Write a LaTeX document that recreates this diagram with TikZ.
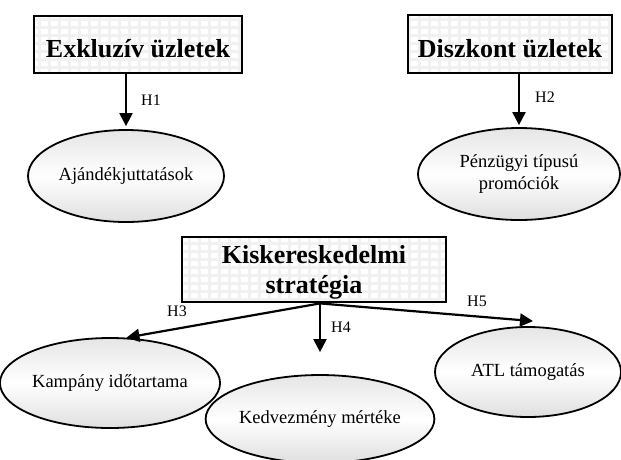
\documentclass[tikz,border=0pt]{standalone}
\usepackage{fontspec}
\setmainfont{Liberation Serif}
\usetikzlibrary{shapes.geometric,arrows.meta,patterns,calc}
\pgfdeclarepatternformonly{hblocks}{\pgfpoint{-1pt}{-1pt}}{\pgfpoint{11pt}{9pt}}{\pgfpoint{10pt}{8pt}}{\pgfpathrectangle{\pgfpoint{1pt}{1pt}}{\pgfpoint{7pt}{5pt}}\pgfusepath{fill}}
\begin{document}
\begin{tikzpicture}[x=1pt,y=-1pt,
  hbox/.style={draw=black,line width=2.8pt,preaction={fill=gray!11},pattern=hblocks,pattern color=white,inner sep=0pt,font=\fontsize{26}{30}\selectfont\bfseries,text depth=0pt,align=center},
  oval/.style={ellipse,draw=black,line width=1.8pt,inner sep=0pt,top color=gray!20,bottom color=gray!25,middle color=white,font=\fontsize{18.5}{22}\selectfont,align=center},
  link/.style={line width=2.2pt,-{Triangle[length=13pt,width=13pt]}},
  hlab/.style={font=\fontsize{16}{18}\selectfont,inner sep=0pt}]
\useasboundingbox (0,0) rectangle (621,459);
% boxes
\node[hbox,minimum width=208pt,minimum height=57pt,text height=26.4pt] (box1) at (138,44.5) {Exkluzív üzletek};
\node[hbox,minimum width=204pt,minimum height=58pt,text height=26.4pt] (box2) at (510,44) {Diszkont üzletek};
\node[hbox,minimum width=264pt,minimum height=65pt] (box3) at (314,269.5) {Kiskereskedelmi\\stratégia};
% ellipses
\node[oval,minimum width=196pt,minimum height=92pt] (ell1) at (126,176) {Ajándékjuttatások};
\node[oval,minimum width=202pt,minimum height=92pt] (ell2) at (519,174) {Pénzügyi típusú\\promóciók};
\node[oval,minimum width=196pt,minimum height=90pt] (ell3) at (110,383) {Kampány időtartama};
\node[oval,minimum width=194pt,minimum height=88pt] (ell4) at (320,419) {Kedvezmény mértéke};
\node[oval,minimum width=186pt,minimum height=90pt] (ell5) at (528,372) {ATL támogatás};
% connectors
\draw[link,shorten >=3pt] (box1.south -| ell1.north) -- (ell1.north);
\draw[link,shorten >=2pt] (box2.south -| ell2.north) -- (ell2.north);
\coordinate (hub) at (box3.south -| ell4.north);
\draw[link,shorten >=22pt] (hub) -- (ell4.north);
\draw[link] (hub) -- (ell3.70);
\draw[link] (hub) -- ($(ell5.north)+(5,-5)$);
% labels
\node[hlab] (l1) at (151,100) {H1};
\node[hlab] (l2) at (545,97) {H2};
\node[hlab] (l3) at (177,311) {H3};
\node[hlab] (l4) at (341,327) {H4};
\node[hlab] (l5) at (477,301) {H5};
\end{tikzpicture}
\end{document}
